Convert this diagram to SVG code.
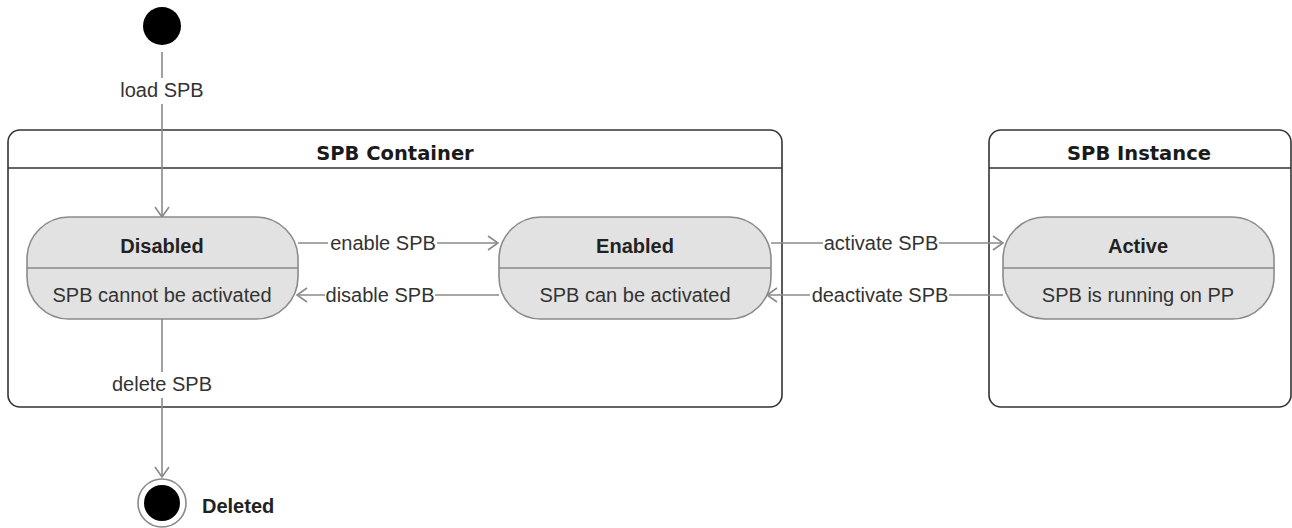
<svg xmlns="http://www.w3.org/2000/svg" width="1292" height="528" viewBox="0 0 1292 528">
<defs>
<style>
.box{fill:#fff;stroke:#333;stroke-width:1.6}
.hdr{stroke:#333;stroke-width:1.6}
.state{fill:#e2e2e2;stroke:#8a8a8a;stroke-width:1.6}
.div{stroke:#8a8a8a;stroke-width:1.6}
.ttl{font-family:"DejaVu Sans",Verdana,sans-serif;font-weight:bold;font-size:19.5px;fill:#1a1a1a;text-anchor:middle}
.sname{font-family:"Liberation Sans",Arial,sans-serif;font-weight:bold;font-size:20px;fill:#222;text-anchor:middle}
.sdesc{font-family:"Liberation Sans",Arial,sans-serif;font-size:20px;fill:#333;text-anchor:middle}
.lbl{font-family:"Liberation Sans",Arial,sans-serif;font-size:20px;fill:#333;text-anchor:middle}
.conn{fill:none;stroke:#8a8a8a;stroke-width:1.6}
.lbg{fill:#fff}
</style>
<marker id="arr" viewBox="0 0 12 16" refX="11" refY="8" markerWidth="12" markerHeight="16" markerUnits="userSpaceOnUse" orient="auto">
<path d="M1,1 L11,8 L1,15" fill="none" stroke="#8a8a8a" stroke-width="1.6"/>
</marker>
</defs>

<g id="spb-container">
<rect class="box" x="8" y="130" width="774" height="277" rx="12" ry="12"/>
<line class="hdr" x1="8" y1="168" x2="782" y2="168"/>
<text class="ttl" x="395" y="160">SPB Container</text>
</g>

<g id="spb-instance">
<rect class="box" x="989" y="130" width="302" height="277" rx="12" ry="12"/>
<line class="hdr" x1="989" y1="168" x2="1291" y2="168"/>
<text class="ttl" x="1139" y="160">SPB Instance</text>
</g>

<g id="connectors">
<line class="conn" x1="162" y1="52" x2="162" y2="217" marker-end="url(#arr)"/>
<rect class="lbg" x="115" y="78" width="94" height="26"/>
<text class="lbl" x="162" y="97">load SPB</text>

<line class="conn" x1="298" y1="243" x2="498" y2="243" marker-end="url(#arr)"/>
<rect class="lbg" x="328" y="232" width="109" height="24"/>
<text class="lbl" x="383" y="250">enable SPB</text>

<line class="conn" x1="499" y1="295" x2="297" y2="295" marker-end="url(#arr)"/>
<rect class="lbg" x="325" y="284" width="110" height="24"/>
<text class="lbl" x="380" y="302">disable SPB</text>

<line class="conn" x1="771" y1="243" x2="1003" y2="243" marker-end="url(#arr)"/>
<rect class="lbg" x="823" y="232" width="116" height="24"/>
<text class="lbl" x="881" y="250">activate SPB</text>

<line class="conn" x1="1003" y1="295" x2="767" y2="295" marker-end="url(#arr)"/>
<rect class="lbg" x="810" y="284" width="139" height="24"/>
<text class="lbl" x="880" y="302">deactivate SPB</text>

<line class="conn" x1="162" y1="319" x2="162" y2="477" marker-end="url(#arr)"/>
<rect class="lbg" x="110" y="372" width="104" height="26"/>
<text class="lbl" x="162" y="391">delete SPB</text>
</g>

<g id="initial">
<circle cx="162" cy="26" r="19" fill="#000"/>
</g>

<g id="disabled">
<rect class="state" x="27" y="217" width="271" height="102" rx="42" ry="42"/>
<line class="div" x1="27" y1="268" x2="298" y2="268"/>
<text class="sname" x="162" y="253">Disabled</text>
<text class="sdesc" x="162" y="302">SPB cannot be activated</text>
</g>

<g id="enabled">
<rect class="state" x="499" y="217" width="272" height="102" rx="42" ry="42"/>
<line class="div" x1="499" y1="268" x2="771" y2="268"/>
<text class="sname" x="635" y="253">Enabled</text>
<text class="sdesc" x="635" y="302">SPB can be activated</text>
</g>

<g id="active">
<rect class="state" x="1003" y="217" width="271" height="102" rx="42" ry="42"/>
<line class="div" x1="1003" y1="268" x2="1274" y2="268"/>
<text class="sname" x="1138" y="253">Active</text>
<text class="sdesc" x="1138" y="302">SPB is running on PP</text>
</g>

<g id="final">
<circle cx="162" cy="503" r="24" fill="#fff" stroke="#8a8a8a" stroke-width="1.6"/>
<circle cx="162" cy="503" r="18" fill="#000"/>
<text class="sname" x="202" y="513" style="text-anchor:start">Deleted</text>
</g>
</svg>
